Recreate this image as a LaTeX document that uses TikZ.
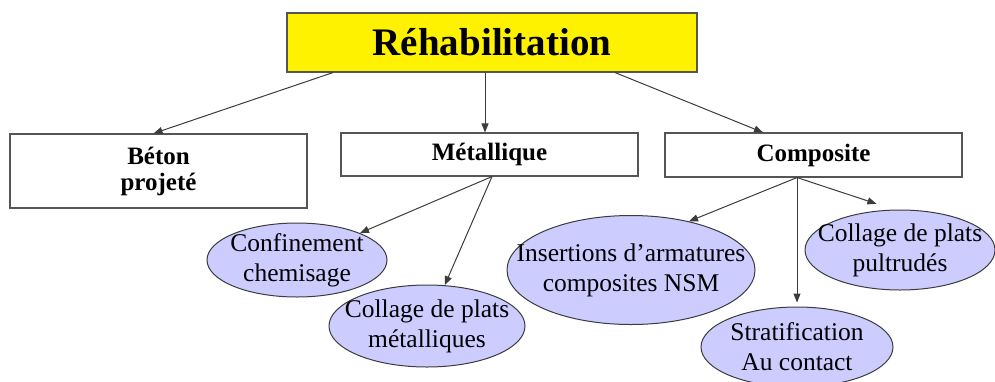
\documentclass[tikz,border=0pt]{standalone}
\usepackage{fontspec}
\setmainfont{Liberation Serif}
\usetikzlibrary{arrows.meta,shapes.geometric}
\definecolor{lav}{RGB}{204,204,255}
\definecolor{edge}{RGB}{60,60,60}
\definecolor{boxedge}{RGB}{85,85,85}
\tikzset{
  boxnode/.style={draw=boxedge, line width=1.1pt, fill=white, inner sep=0pt, align=center,
    font=\fontsize{25}{26}\selectfont\bfseries},
  ellnode/.style={ellipse, draw=edge, line width=1pt, fill=lav, inner sep=0pt},
  elltext/.style={inner sep=0pt, align=center, font=\fontsize{25.5}{30}\selectfont},
  conn/.style={draw=edge, line width=1pt, -{Triangle[length=9pt,width=7pt]}}
}
\begin{document}
\begin{tikzpicture}[x=1pt,y=-1pt]
\useasboundingbox (0,0) rectangle (995,381);
\fill[white] (0,0) rectangle (995,381);
\node[boxnode, fill=yellow, minimum width=410pt, minimum height=59pt,
  font=\fontsize{39}{41}\selectfont\bfseries] (top) at (492,42.5) {Réhabilitation};
\node[boxnode, minimum width=297pt, minimum height=74pt] (beton) at (158.5,171) {Béton\\projeté};
\node[boxnode, minimum width=297pt, minimum height=43pt] (metal) at (489.5,154.5) {Métallique};
\node[boxnode, minimum width=297pt, minimum height=44pt] (compo) at (813.5,155) {Composite};
\node[ellnode, minimum width=180pt, minimum height=74pt] (conf) at (297,260) {};
\node[elltext] (conft) at (conf) {Confinement\\chemisage};
\node[ellnode, minimum width=196pt, minimum height=82pt] (colm) at (427,326) {};
\node[elltext] (colmt) at (colm) {Collage de plats\\métalliques};
\node[ellnode, minimum width=248pt, minimum height=109pt] (ins) at (631,270) {};
\node[elltext] (inst) at (ins) {Insertions d’armatures\\composites NSM};
\node[ellnode, minimum width=190pt, minimum height=80pt] (pult) at (900,250) {};
\node[elltext] (pultt) at (pult) {Collage de plats\\pultrudés};
\node[ellnode, minimum width=192pt, minimum height=80pt] (strat) at (797,347) {};
\node[elltext] (stratt) at (strat) {Stratification\\Au contact};
\draw[conn] ([xshift=-159pt]top.south) -- ([xshift=-5pt]beton.north);
\draw[conn] ([xshift=-7pt]top.south) -- ([xshift=-4.5pt]metal.north);
\draw[conn] ([xshift=123pt]top.south) -- ([xshift=-50.5pt]compo.north);
\draw[conn] ([xshift=2.5pt]metal.south) -- (conf);
\draw[conn] ([xshift=2.5pt]metal.south) -- (colm);
\draw[conn] ([xshift=-16.5pt]compo.south) -- (ins.40);
\draw[conn] ([xshift=-16.5pt]compo.south) -- ([yshift=4pt]strat.north);
\draw[conn] ([xshift=-16.5pt]compo.south) -- ([yshift=7pt]pult.121);
\end{tikzpicture}
\end{document}
